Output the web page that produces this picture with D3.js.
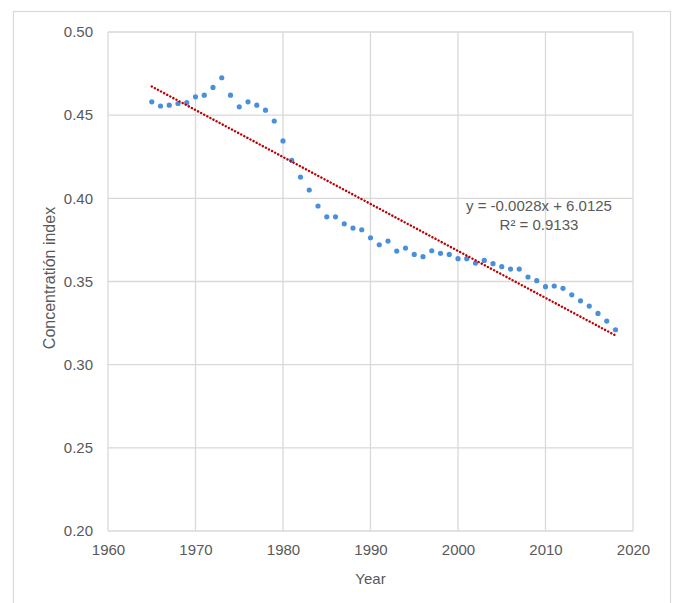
<!DOCTYPE html>
<head>
  <meta charset="utf-8">
  <script src="https://d3js.org/d3.v7.min.js"></script>
  <style>
    body { margin:0; background:#fff; }
    text { font-family: "Liberation Sans", Arial, sans-serif; fill:#595959; }
  </style>
</head>
<body>
<div id="chart"></div>
<script>
  var width = 674;
  var height = 603;
  var margin = {top: 32, right: 41, bottom: 72, left: 108};

  // data
  var years = [1965,1966,1967,1968,1969,1970,1971,1972,1973,1974,1975,1976,1977,1978,1979,
               1980,1981,1982,1983,1984,1985,1986,1987,1988,1989,1990,1991,1992,1993,1994,
               1995,1996,1997,1998,1999,2000,2001,2002,2003,2004,2005,2006,2007,2008,2009,
               2010,2011,2012,2013,2014,2015,2016,2017,2018];
  var concIndex = [0.458,0.4555,0.456,0.457,0.4575,0.461,0.462,0.4667,0.4725,0.462,0.455,0.458,0.456,0.453,0.4465,
                   0.4345,0.4228,0.4128,0.405,0.3954,0.3889,0.3889,0.3847,0.3821,0.3811,0.3763,0.3721,0.3743,0.3683,0.3701,
                   0.3663,0.3649,0.3685,0.3669,0.3663,0.3637,0.3637,0.3611,0.3627,0.3607,0.3589,0.3575,0.3575,0.3527,0.3505,
                   0.3469,0.3473,0.3459,0.342,0.3384,0.3352,0.3308,0.3262,0.321];
  var xTicks = [1960,1970,1980,1990,2000,2010,2020];
  var yTicks = [0.20,0.25,0.30,0.35,0.40,0.45,0.50];
  var eqLines = ["y = -0.0028x + 6.0125", "R² = 0.9133"];

  var points = years.map(function(y, i){ return {x: y, y: concIndex[i]}; });

  var svg = d3.select("#chart").append("svg")
    .attr("width", width)
    .attr("height", height);

  // outer chart frame
  svg.append("rect")
    .attr("x", 13.5).attr("y", 11.5)
    .attr("width", 657).attr("height", 620)
    .attr("fill", "none").attr("stroke", "#d9d9d9").attr("stroke-width", 1.2);

  var xScale = d3.scaleLinear().domain([1960, 2020]).range([margin.left, width - margin.right]);
  var yScale = d3.scaleLinear().domain([0.20, 0.50]).range([height - margin.bottom, margin.top]);

  // gridlines
  svg.append("g").selectAll("line").data(xTicks).enter().append("line")
    .attr("x1", function(d){ return xScale(d); }).attr("x2", function(d){ return xScale(d); })
    .attr("y1", yScale(0.20)).attr("y2", yScale(0.50))
    .attr("stroke", "#d9d9d9").attr("stroke-width", 1.3);
  svg.append("g").selectAll("line").data(yTicks).enter().append("line")
    .attr("x1", xScale(1960)).attr("x2", xScale(2020))
    .attr("y1", function(d){ return yScale(d); }).attr("y2", function(d){ return yScale(d); })
    .attr("stroke", "#d9d9d9").attr("stroke-width", 1.3);

  // axes (labels only)
  var xAxis = d3.axisBottom(xScale).tickValues(xTicks).tickSize(0).tickPadding(13).tickFormat(d3.format("d"));
  var yAxis = d3.axisLeft(yScale).tickValues(yTicks).tickSize(0).tickPadding(15).tickFormat(d3.format(".2f"));
  var gx = svg.append("g").attr("transform", "translate(0," + yScale(0.20) + ")").call(xAxis);
  var gy = svg.append("g").attr("transform", "translate(" + xScale(1960) + ",0)").call(yAxis);
  [gx, gy].forEach(function(g){
    g.select(".domain").remove();
    g.selectAll("text").attr("font-size", 15).attr("fill", "#595959")
      .attr("font-family", "Liberation Sans, Arial, sans-serif");
  });

  // linear trend fitted to the points
  var mx = d3.mean(points, function(d){ return d.x; });
  var my = d3.mean(points, function(d){ return d.y; });
  var slope = d3.sum(points, function(d){ return (d.x - mx) * (d.y - my); }) /
              d3.sum(points, function(d){ return (d.x - mx) * (d.x - mx); });
  var icpt = my - slope * mx;
  var xExt = d3.extent(years);
  var trend = xExt.map(function(x){ return {x: x, y: icpt + slope * x}; });

  var line = d3.line()
    .x(function(d){ return xScale(d.x); })
    .y(function(d){ return yScale(d.y); });

  // points
  svg.append("g").selectAll("circle").data(points).enter().append("circle")
    .attr("cx", function(d){ return xScale(d.x); })
    .attr("cy", function(d){ return yScale(d.y); })
    .attr("r", 2.6)
    .attr("fill", "#4a90d9");

  svg.append("path")
    .attr("d", line(trend))
    .attr("fill", "none")
    .attr("stroke", "#c00000")
    .attr("stroke-width", 2.4)
    .attr("stroke-linecap", "round")
    .attr("stroke-dasharray", "0.1 3.4");

  // equation
  svg.append("g").selectAll("text").data(eqLines).enter().append("text")
    .attr("x", 539)
    .attr("y", function(d, i){ return 211 + i * 19; })
    .attr("text-anchor", "middle")
    .attr("font-size", 15)
    .text(function(d){ return d; });

  // axis titles
  svg.append("text")
    .attr("x", (xScale(1960) + xScale(2020)) / 2)
    .attr("y", 584)
    .attr("text-anchor", "middle")
    .attr("font-size", 15)
    .text("Year");

  svg.append("text")
    .attr("transform", "translate(55,278) rotate(-90)")
    .attr("text-anchor", "middle")
    .attr("font-size", 16)
    .text("Concentratión index");
</script>
</body>
